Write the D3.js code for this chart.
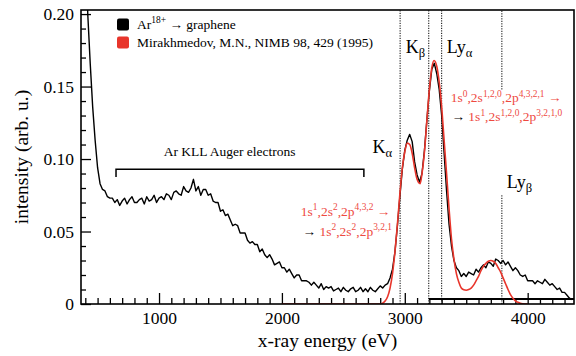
<!DOCTYPE html>
<html>
<head>
<meta charset="utf-8">
<script src="https://cdn.jsdelivr.net/npm/d3@7"></script>
<style>
  body { margin: 0; background: #fff; }
  svg { display: block; }
  text { font-family: "Liberation Serif", "DejaVu Serif", serif; }
</style>
</head>
<body>
<div id="chart"></div>
<script>
// Measured spectrum, 20 eV channels starting at 380 eV
const spectrumStart = 380;
const spectrumStep = 20;
const spectrum = [
  0.300, 0.262, 0.200, 0.166, 0.136, 0.113, 0.094, 0.083, 0.079, 0.078, 0.074, 0.073,
  0.073, 0.070, 0.072, 0.068, 0.071, 0.073, 0.069, 0.072, 0.074, 0.070, 0.070, 0.072, 0.073, 0.069, 0.074, 0.071, 0.072, 0.075, 0.070, 0.073,
  0.074, 0.072, 0.076, 0.075, 0.072, 0.077, 0.078, 0.076, 0.075, 0.081, 0.078, 0.077, 0.080, 0.086, 0.078, 0.081, 0.075, 0.079, 0.079, 0.075,
  0.076, 0.071, 0.070, 0.070, 0.064, 0.065, 0.061, 0.062, 0.058, 0.054, 0.055, 0.054, 0.049, 0.049, 0.049, 0.044, 0.042, 0.043, 0.041, 0.041,
  0.036, 0.038, 0.034, 0.032, 0.034, 0.031, 0.027, 0.028, 0.029, 0.025, 0.025, 0.022, 0.024, 0.021, 0.018, 0.020, 0.020, 0.016, 0.016, 0.016,
  0.015, 0.013, 0.015, 0.013, 0.011, 0.014, 0.010, 0.012, 0.011, 0.012, 0.009, 0.010, 0.011, 0.0085, 0.0115, 0.0095, 0.0085, 0.0105, 0.0115, 0.0085,
  0.0095, 0.0115, 0.0085, 0.0105, 0.0085, 0.0115, 0.0095, 0.0085, 0.0105, 0.0125, 0.011, 0.013, 0.014, 0.018, 0.024, 0.036, 0.054, 0.074, 0.093, 0.106,
  0.113, 0.117, 0.112, 0.098, 0.089, 0.084, 0.090, 0.106, 0.127, 0.147, 0.162, 0.166, 0.159, 0.148, 0.130, 0.104, 0.078, 0.055, 0.040, 0.030,
  0.025, 0.023, 0.019, 0.021, 0.019, 0.022, 0.021, 0.020, 0.024, 0.022, 0.025, 0.027, 0.025, 0.029, 0.028, 0.026, 0.031, 0.030, 0.028, 0.030,
  0.027, 0.029, 0.026, 0.023, 0.025, 0.023, 0.020, 0.019, 0.020, 0.016, 0.016, 0.016, 0.014, 0.016, 0.015, 0.014, 0.017, 0.015, 0.013, 0.014,
  0.012, 0.010, 0.011, 0.008, 0.008, 0.006, 0.004, 0.003
];

// Model curve (Mirakhmedov 1995)
const modelEnergy = [
  2000, 2800, 2820, 2840, 2860, 2880, 2900, 2920, 2940, 2960,
  2980, 3000, 3020, 3040, 3060, 3080, 3100, 3125, 3140, 3160,
  3180, 3200, 3220, 3238, 3260, 3280, 3300, 3320, 3340, 3360,
  3380, 3400, 3420, 3440, 3460, 3480, 3500, 3520, 3540, 3560,
  3580, 3600, 3620, 3640, 3660, 3680, 3700, 3720, 3740, 3760,
  3780, 3800, 3820, 3840, 3860, 3880, 3900, 3920, 3940, 3960, 4000
];
const modelIntensity = [
  0, 0, 0.0005, 0.002, 0.005, 0.011, 0.021, 0.036, 0.055, 0.076,
  0.094, 0.105, 0.111, 0.110, 0.104, 0.094, 0.086, 0.083, 0.090, 0.105,
  0.127, 0.148, 0.163, 0.168, 0.164, 0.153, 0.136, 0.113, 0.090, 0.066,
  0.045, 0.031, 0.021, 0.015, 0.011, 0.0098, 0.0095, 0.0100, 0.011, 0.013,
  0.016, 0.019, 0.023, 0.026, 0.028, 0.0295, 0.030, 0.0295, 0.028, 0.025,
  0.022, 0.018, 0.014, 0.010, 0.0065, 0.004, 0.0022, 0.0012, 0.0005, 0.0002, 0
];

// Transition lines
const lineNames = ["K", "K", "Ly", "Ly"];
const lineSubs = ["α", "β", "α", "β"];
const lineEnergy = [2962, 3195, 3300, 3790];

// Axis ticks
const xTicks = [1000, 2000, 3000, 4000];
const yTicks = [0, 0.05, 0.10, 0.15, 0.20];

const legendLabels = ["graphene", "Mirakhmedov, M.N., NIMB 98, 429 (1995)"];

// Options
const width = 576, height = 356;
const plot = {left: 81, right: 574, top: 10, bottom: 304};
const serif = "Liberation Serif, DejaVu Serif, serif";
const red = "#e8352b";
const redText = "#ee4a3f";

const data = spectrum.map((v, i) => ({e: spectrumStart + i * spectrumStep, v}));
const model = modelEnergy.map((e, i) => ({e, v: modelIntensity[i]}));

const x = d3.scaleLinear().domain([365, 4377]).range([plot.left, plot.right]);
const y = d3.scaleLinear().domain([0, 0.2028]).range([plot.bottom, plot.top]);

const svg = d3.select("#chart").append("svg")
  .attr("width", width)
  .attr("height", height)
  .attr("font-family", serif);

svg.append("defs").append("clipPath").attr("id", "clip")
  .append("rect")
  .attr("x", plot.left).attr("y", plot.top)
  .attr("width", plot.right - plot.left).attr("height", plot.bottom - plot.top);

// Rich text helper: parts are [text, kind, colour]
const rich = (g, px, py, size, parts) => {
  const t = g.append("text").attr("x", px).attr("y", py)
    .attr("font-size", size).attr("font-family", serif);
  let shift = 0;
  parts.forEach(([s, kind, c]) => {
    const target = kind === "sup" ? -0.42 * size : kind === "sub" ? 0.22 * size : 0;
    t.append("tspan")
      .attr("dy", target - shift)
      .attr("font-size", kind ? size * 0.7 : size)
      .attr("fill", c || "#000")
      .text(s);
    shift = target;
  });
  return t;
};

// Reference lines (dotted)
const refs = svg.append("g")
  .attr("stroke", "#000")
  .attr("stroke-width", 1)
  .attr("stroke-dasharray", "1.2,1.3");
lineEnergy.forEach((e, i) => {
  const segs = i === 3 ? [[0.0, 0.075], [0.148, 0.2028]] : [[0, 0.2028]];
  segs.forEach(([a, b]) => refs.append("line")
    .attr("x1", x(e)).attr("x2", x(e))
    .attr("y1", y(a)).attr("y2", y(b)));
});

// Bottom-right baseline bar
svg.append("line")
  .attr("x1", x(3195)).attr("x2", plot.right)
  .attr("y1", y(0.0034)).attr("y2", y(0.0034))
  .attr("stroke", "#000").attr("stroke-width", 2);

// Axes with inward ticks
const fmt = d => d === 0 ? "0" : d3.format(".2f")(d);
const xMinor = d3.range(400, 4400, 100).filter(v => v % 1000 !== 0);
const yMinor = d3.range(1, 20).map(v => v / 100).filter(v => Math.round(v * 100) % 5 !== 0);

const axisStyle = g => {
  g.attr("font-family", serif).attr("font-size", 17.5);
  g.select(".domain").remove();
  g.selectAll(".tick line").attr("stroke", "#000").attr("stroke-width", 1.3);
  g.selectAll("text").attr("fill", "#000");
};

svg.append("g")
  .attr("transform", `translate(0,${plot.bottom})`)
  .call(d3.axisBottom(x).tickValues(xMinor).tickSize(-6).tickFormat(""))
  .call(axisStyle);
svg.append("g")
  .attr("transform", `translate(0,${plot.bottom})`)
  .call(d3.axisBottom(x).tickValues(xTicks).tickSize(-11).tickPadding(8).tickFormat(d3.format("d")))
  .call(axisStyle);
svg.append("g")
  .attr("transform", `translate(${plot.left},0)`)
  .call(d3.axisLeft(y).tickValues(yMinor).tickSize(-5).tickFormat(""))
  .call(axisStyle);
svg.append("g")
  .attr("transform", `translate(${plot.left},0)`)
  .call(d3.axisLeft(y).tickValues(yTicks).tickSize(-10).tickPadding(7).tickFormat(fmt))
  .call(axisStyle);

// Data
const line = d3.line().x(d => x(d.e)).y(d => y(d.v));
const curves = svg.append("g").attr("clip-path", "url(#clip)");
curves.append("path")
  .datum(data)
  .attr("fill", "none")
  .attr("stroke", "#000")
  .attr("stroke-width", 1.4)
  .attr("stroke-linejoin", "round")
  .attr("d", line);
curves.append("path")
  .datum(model)
  .attr("fill", "none")
  .attr("stroke", red)
  .attr("stroke-width", 1.6)
  .attr("stroke-linejoin", "round")
  .attr("d", line.curve(d3.curveMonotoneX));

// Frame
svg.append("rect")
  .attr("x", plot.left).attr("y", plot.top)
  .attr("width", plot.right - plot.left).attr("height", plot.bottom - plot.top)
  .attr("fill", "none").attr("stroke", "#000").attr("stroke-width", 1.6);

// Axis titles
svg.append("text")
  .attr("x", (plot.left + plot.right) / 2).attr("y", 347)
  .attr("text-anchor", "middle").attr("font-size", 19.5)
  .text("x-ray energy (eV)");
svg.append("text")
  .attr("transform", "translate(28,157) rotate(-90)")
  .attr("text-anchor", "middle").attr("font-size", 19.5)
  .text("intensity (arb. u.)");

// Legend
const legend = svg.append("g");
[["#000", 24.5], [red, 42.5]].forEach(([c, cy]) => legend.append("rect")
  .attr("x", 117).attr("y", cy - 6).attr("width", 12).attr("height", 12)
  .attr("rx", 2).attr("fill", c));
rich(legend, 137, 29, 13.5, [["Ar"], ["18+", "sup"], [" → " + legendLabels[0]]]);
rich(legend, 137, 47, 13.5, [[legendLabels[1]]]);

// Auger bracket
const ann = svg.append("g");
ann.append("path")
  .attr("d", d3.line()([[x(650), y(0.0876)], [x(650), y(0.093)], [x(2667), y(0.093)], [x(2667), y(0.0876)]]))
  .attr("fill", "none").attr("stroke", "#000").attr("stroke-width", 1.5);
ann.append("text")
  .attr("x", x(1575)).attr("y", y(0.102))
  .attr("text-anchor", "middle").attr("font-size", 13.5)
  .text("Ar KLL Auger electrons");

// Line labels
const labelAt = [[2737, 0.104], [3008, 0.173], [3341, 0.173], [3829, 0.080]];
labelAt.forEach(([e, v], i) => rich(ann, x(e), y(v), 18, [[lineNames[i]], [lineSubs[i], "sub"]]));

// Transition annotations
rich(ann, x(2154), y(0.061), 13.5, [
  ["1s", "", redText], ["1", "sup", redText], [",2s", "", redText], ["2", "sup", redText],
  [",2p", "", redText], ["4,3,2", "sup", redText], [" →", "", redText]]);
rich(ann, x(2168), y(0.047), 13.5, [
  ["→ ", "", "#000"], ["1s", "", redText], ["2", "sup", redText], [",2s", "", redText], ["2", "sup", redText],
  [",2p", "", redText], ["3,2,1", "sup", redText]]);
rich(ann, x(3374), y(0.139), 13.5, [
  ["1s", "", redText], ["0", "sup", redText], [",2s", "", redText], ["1,2,0", "sup", redText],
  [",2p", "", redText], ["4,3,2,1", "sup", redText], [" →", "", redText]]);
rich(ann, x(3380), y(0.126), 13.5, [
  ["→ ", "", "#000"], ["1s", "", redText], ["1", "sup", redText], [",2s", "", redText], ["1,2,0", "sup", redText],
  [",2p", "", redText], ["3,2,1,0", "sup", redText]]);
</script>
</body>
</html>
